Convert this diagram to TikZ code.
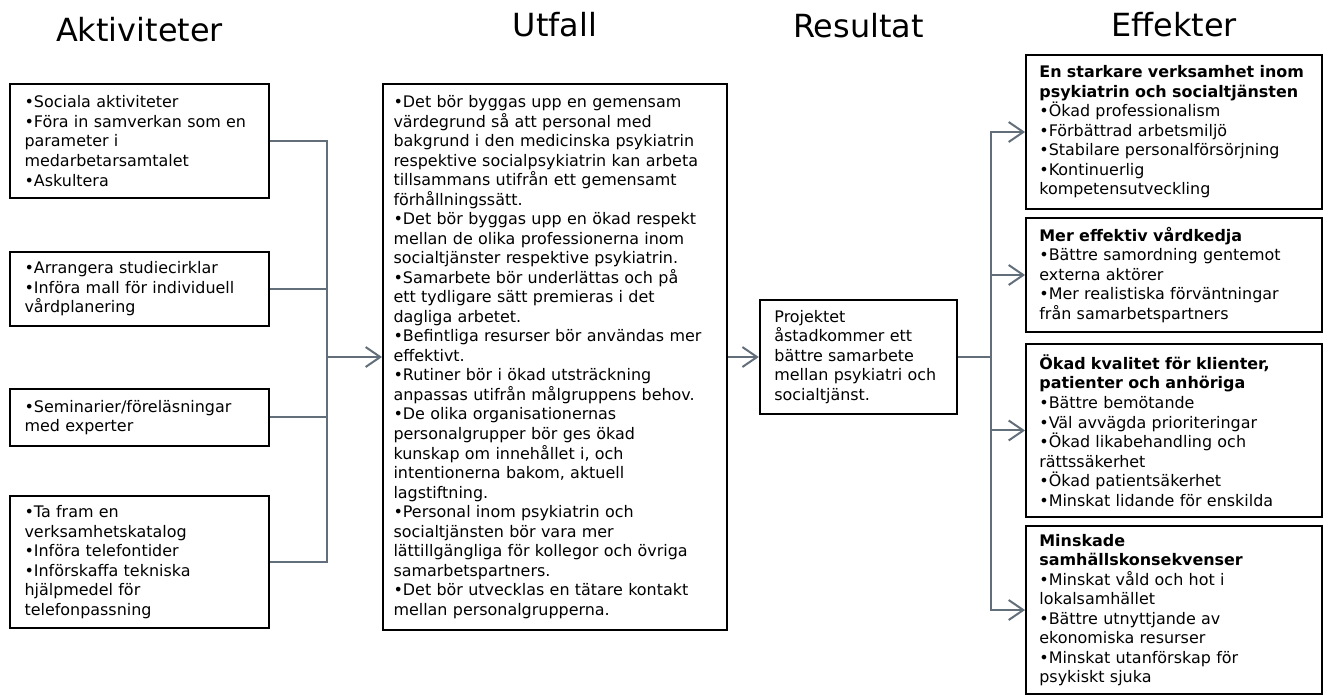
\documentclass[tikz,border=0pt]{standalone}
\usepackage{fontspec}
\setmainfont{DejaVu Sans}
\usepackage{tikz}
\usetikzlibrary{arrows.meta}
\definecolor{linegray}{RGB}{98,110,122}
\newcommand{\cellfont}{\fontsize{12pt}{14.7pt}\selectfont}
\newcommand{\headfont}{\fontsize{24pt}{28pt}\selectfont}

\begin{document}
\begin{tikzpicture}[
	box/.style={draw, line width=1.5pt, align=left, font=\cellfont, inner xsep=10.9pt, inner ysep=0pt},
	head/.style={font=\headfont, anchor=base},
	conn/.style={draw=linegray, line width=1.5pt},
	arr/.style={conn, -{Straight Barb[length=11pt,width=15pt]}}]
	\useasboundingbox (0cm,0cm) rectangle (35.03cm,18.415cm);
	\node[head] (h1) at (3.691cm,17.304cm) {Aktiviteter};
	\node[head] (h2) at (14.684cm,17.436cm) {Utfall};
	\node[head] (h3) at (22.714cm,17.410cm) {Resultat};
	\node[head] (h4) at (31.062cm,17.436cm) {Effekter};

	\node[box, text width=6.084cm, minimum height=3.016cm] (a1) at (3.691cm,14.684cm) {•Sociala aktiviteter\\•Föra in samverkan som en\\parameter i\\medarbetarsamtalet\\•Askultera};
	\node[box, text width=6.084cm, minimum height=1.958cm] (a2) at (3.691cm,10.768cm) {•Arrangera studiecirklar\\•Införa mall för individuell\\vårdplanering};
	\node[box, text width=6.084cm, minimum height=1.508cm] (a3) at (3.691cm,7.369cm) {•Seminarier/föreläsningar\\med experter};
	\node[box, text width=6.084cm, minimum height=3.492cm] (a4) at (3.691cm,3.545cm) {•Ta fram en\\verksamhetskatalog\\•Införa telefontider\\•Införskaffa tekniska\\hjälpmedel för\\telefonpassning};

	\node[box, inner xsep=7.9pt, text width=8.545cm, minimum height=14.446cm] (m1) at (14.684cm,8.969cm) {•Det bör byggas upp en gemensam\\värdegrund så att personal med\\bakgrund i den medicinska psykiatrin\\respektive socialpsykiatrin kan arbeta\\tillsammans utifrån ett gemensamt\\förhållningssätt.\\•Det bör byggas upp en ökad respekt\\mellan de olika professionerna inom\\socialtjänster respektive psykiatrin.\\•Samarbete bör underlättas och på\\ett tydligare sätt premieras i det\\dagliga arbetet.\\•Befintliga resurser bör användas mer\\effektivt.\\•Rutiner bör i ökad utsträckning\\anpassas utifrån målgruppens behov.\\•De olika organisationernas\\personalgrupper bör ges ökad\\kunskap om innehållet i, och\\intentionerna bakom, aktuell\\lagstiftning.\\•Personal inom psykiatrin och\\socialtjänsten bör vara mer\\lättillgängliga för kollegor och övriga\\samarbetspartners.\\•Det bör utvecklas en tätare kontakt\\mellan personalgrupperna.};

	\node[box, inner xsep=11pt, text width=4.45cm, minimum height=3.016cm] (r1) at (22.714cm,8.969cm) {Projektet\\åstadkommer ett\\bättre samarbete\\mellan psykiatri och\\socialtjänst.};

	\node[box, inner xsep=10pt, text width=7.126cm, minimum height=4.075cm] (e1) at (31.062cm,14.922cm) {\textbf{En starkare verksamhet inom}\\\textbf{psykiatrin och socialtjänsten}\\•Ökad professionalism\\•Förbättrad arbetsmiljö\\•Stabilare personalförsörjning\\•Kontinuerlig\\kompetensutveckling};
	\node[box, inner xsep=10pt, text width=7.126cm, minimum height=3.016cm] (e2) at (31.062cm,11.139cm) {\textbf{Mer effektiv vårdkedja}\\•Bättre samordning gentemot\\externa aktörer\\•Mer realistiska förväntningar\\från samarbetspartners};
	\node[box, inner xsep=10pt, text width=7.126cm, minimum height=4.577cm] (e3) at (31.062cm,7.025cm) {\textbf{Ökad kvalitet för klienter,}\\\textbf{patienter och anhöriga}\\•Bättre bemötande\\•Väl avvägda prioriteringar\\•Ökad likabehandling och\\rättssäkerhet\\•Ökad patientsäkerhet\\•Minskat lidande för enskilda};
	\node[box, inner xsep=10pt, text width=7.126cm, minimum height=4.445cm] (e4) at (31.062cm,2.275cm) {\textbf{Minskade}\\\textbf{samhällskonsekvenser}\\•Minskat våld och hot i\\lokalsamhället\\•Bättre utnyttjande av\\ekonomiska resurser\\•Minskat utanförskap för\\psykiskt sjuka};

	\coordinate (jl) at (8.652cm,8.969cm);
	\coordinate (jr) at (26.220cm,8.969cm);

	\draw [conn] (a1.east) -| (jl);
	\draw [conn] (a2.east) -| (jl);
	\draw [conn] (a3.east) -| (jl);
	\draw [conn] (a4.east) -| (jl);
	\draw [arr] (jl) -- (m1);

	\draw [arr] (m1) -- (r1);

	\draw [conn] (r1) -- (jr);
	\draw [arr] (jr) |- (e1.west);
	\draw [arr] (jr) |- (e2.west);
	\draw [arr] (jr) |- (e3.west);
	\draw [arr] (jr) |- (e4.west);
\end{tikzpicture}
\end{document}
